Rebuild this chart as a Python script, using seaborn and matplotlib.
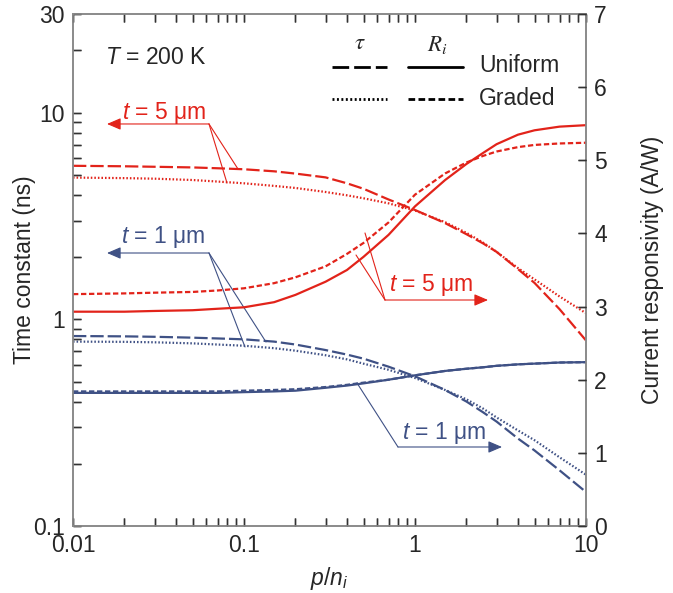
import numpy as np
import pandas as pd
import matplotlib
matplotlib.use("Agg")
import matplotlib.pyplot as plt
from matplotlib.ticker import FixedLocator, FixedFormatter, NullFormatter, LogLocator
from matplotlib.transforms import blended_transform_factory
from matplotlib.collections import LineCollection
import seaborn as sns

# ---------------- data ----------------
p_ni = [0.01, 0.02, 0.03, 0.05, 0.07, 0.1, 0.15, 0.2, 0.3, 0.4, 0.5, 0.7,
        1, 1.5, 2, 2.5, 3, 4, 5, 7, 10]

# time constant (ns), left axis
tau_uniform_5um = [5.53, 5.50, 5.47, 5.43, 5.38, 5.32, 5.20, 5.07, 4.86, 4.55, 4.28, 3.80,
                   3.38, 2.92, 2.58, 2.33, 2.12, 1.75, 1.50, 1.12, 0.79]
tau_graded_5um = [4.85, 4.82, 4.79, 4.72, 4.64, 4.55, 4.42, 4.32, 4.13, 3.98, 3.85, 3.64,
                  3.36, 2.95, 2.62, 2.35, 2.12, 1.77, 1.56, 1.29, 1.07]
tau_uniform_1um = [0.83, 0.827, 0.823, 0.815, 0.808, 0.80, 0.78, 0.755, 0.71, 0.675, 0.645, 0.59,
                   0.53, 0.455, 0.40, 0.355, 0.32, 0.265, 0.232, 0.186, 0.146]
tau_graded_1um = [0.78, 0.778, 0.774, 0.765, 0.755, 0.745, 0.725, 0.705, 0.67, 0.64, 0.61, 0.57,
                  0.52, 0.455, 0.41, 0.37, 0.335, 0.29, 0.26, 0.215, 0.177]

# current responsivity (A/W), right axis
R_uniform_5um = [2.93, 2.93, 2.94, 2.95, 2.97, 2.99, 3.06, 3.16, 3.34, 3.50, 3.68, 3.98,
                 4.37, 4.73, 4.95, 5.10, 5.22, 5.35, 5.41, 5.46, 5.48]
R_graded_5um = [3.17, 3.18, 3.19, 3.20, 3.22, 3.25, 3.32, 3.40, 3.55, 3.72, 3.87, 4.15,
                4.53, 4.82, 4.97, 5.06, 5.12, 5.18, 5.21, 5.23, 5.24]
R_uniform_1um = [1.82, 1.82, 1.82, 1.82, 1.82, 1.83, 1.84, 1.85, 1.89, 1.92, 1.95, 2.00,
                 2.06, 2.12, 2.15, 2.17, 2.19, 2.21, 2.22, 2.235, 2.24]
R_graded_1um = [1.84, 1.84, 1.84, 1.84, 1.84, 1.85, 1.86, 1.87, 1.90, 1.93, 1.96, 2.00,
                2.06, 2.12, 2.15, 2.17, 2.19, 2.21, 2.22, 2.235, 2.24]

left_ticks = [0.1, 1, 10, 30]
left_ticklabels = ["0.1", "1", "10", "30"]
x_ticks = [0.01, 0.1, 1, 10]
x_ticklabels = ["0.01", "0.1", "1", "10"]
right_ticks = [0, 1, 2, 3, 4, 5, 6, 7]

# ---------------- style ----------------
sns.set_theme(style="ticks")
plt.rcParams["font.family"] = ["Liberation Sans", "DejaVu Sans"]
plt.rcParams["mathtext.fontset"] = "custom"
plt.rcParams["mathtext.rm"] = "Liberation Sans"
plt.rcParams["mathtext.it"] = "Liberation Sans:italic"
TICK_C = "#333333"
plt.rcParams.update({
    "axes.axisbelow": False,
    "xtick.direction": "in", "ytick.direction": "in",
    "xtick.bottom": True, "xtick.top": True,
    "ytick.left": True, "ytick.right": False,
    "xtick.major.size": 6, "xtick.minor.size": 6,
    "ytick.major.size": 6, "ytick.minor.size": 6,
})

FS = 16.5
RED = "#E2231A"
BLUE = "#3F5185"
SPINE = "#8a8a8a"
LW = 1.6
LONG_DASH = (0, (6, 1.8))
SHORT_DASH = (0, (2.4, 1.2))
DOTTED = (0, (0.7, 0.9))

W, H = 673, 593
AX_W, AX_H = 513, 512
fig = plt.figure(figsize=(W / 100, H / 100), dpi=100)
ax = fig.add_axes([73 / W, 1 - 526 / H, AX_W / W, AX_H / H])
ax.set_xscale("log")
ax.set_yscale("log")
ax.set_xlim(0.01, 10)
ax.set_ylim(0.1, 30)
ax2 = ax.twinx()
ax2.set_ylim(0, 7)

# ---------------- curves ----------------
sns.lineplot(x=p_ni, y=tau_uniform_5um, ax=ax, color=RED, lw=LW, linestyle=LONG_DASH)
sns.lineplot(x=p_ni, y=tau_graded_5um, ax=ax, color=RED, lw=LW, linestyle=DOTTED)
sns.lineplot(x=p_ni, y=tau_uniform_1um, ax=ax, color=BLUE, lw=LW, linestyle=LONG_DASH)
sns.lineplot(x=p_ni, y=tau_graded_1um, ax=ax, color=BLUE, lw=LW, linestyle=DOTTED)

sns.lineplot(x=p_ni, y=R_uniform_5um, ax=ax2, color=RED, lw=LW, linestyle="-")
sns.lineplot(x=p_ni, y=R_graded_5um, ax=ax2, color=RED, lw=LW, linestyle=SHORT_DASH)
sns.lineplot(x=p_ni, y=R_uniform_1um, ax=ax2, color=BLUE, lw=LW, linestyle="-")
sns.lineplot(x=p_ni, y=R_graded_1um, ax=ax2, color=BLUE, lw=LW, linestyle=SHORT_DASH)

# ---------------- axes / ticks ----------------
ax.xaxis.set_major_locator(FixedLocator(x_ticks))
ax.xaxis.set_major_formatter(FixedFormatter(x_ticklabels))
ax.xaxis.set_minor_locator(LogLocator(base=10, subs=np.arange(2, 10)))
ax.xaxis.set_minor_formatter(NullFormatter())
ax.yaxis.set_major_locator(FixedLocator(left_ticks))
ax.yaxis.set_major_formatter(FixedFormatter(left_ticklabels))
ax.yaxis.set_minor_locator(LogLocator(base=10, subs=np.arange(2, 10)))
ax.yaxis.set_minor_formatter(NullFormatter())
ax2.yaxis.set_major_locator(FixedLocator(right_ticks))

for a in (ax, ax2):
    for s in a.spines.values():
        s.set_color(SPINE)
        s.set_linewidth(1.2)
        s.set_visible(True)
    a.grid(False)

ax.set_xlabel(r"$p/n_i$", fontsize=FS)
ax.set_ylabel("Time constant (ns)", fontsize=FS)
ax2.set_ylabel("Current responsivity (A/W)", fontsize=FS)
ax.xaxis.set_label_coords(0.5, -0.077)
ax.yaxis.set_label_coords(-0.073, 0.5)
ax2.yaxis.set_label_coords(1.107, 0.5)

# ---------------- text / legend ----------------
tr = ax.transAxes
ax.text(0.062, 0.916, r"$T$ = 200 K", transform=tr, fontsize=FS, ha="left", va="center")

ax.text(0.5595, 0.9434, r"$\tau$", transform=tr, fontsize=FS, ha="center", va="center",
        math_fontfamily="stix")
ax.text(0.7096, 0.9395, r"$R_i$", transform=tr, fontsize=FS, ha="center", va="center",
        math_fontfamily="stix")
row_u, row_g = 0.8965, 0.834
ax.plot([0.5049, 0.6121], [row_u, row_u], transform=tr, color="black", lw=2, linestyle=LONG_DASH)
ax.plot([0.6530, 0.7602], [row_u, row_u], transform=tr, color="black", lw=2, linestyle="-")
ax.plot([0.5049, 0.6121], [row_g, row_g], transform=tr, color="black", lw=2, linestyle=DOTTED)
ax.plot([0.6530, 0.7602], [row_g, row_g], transform=tr, color="black", lw=2, linestyle=SHORT_DASH)
ax.text(0.7914, row_u + 0.002, "Uniform", transform=tr, fontsize=FS, ha="left", va="center")
ax.text(0.7914, row_g, "Graded", transform=tr, fontsize=FS, ha="left", va="center")


def callout(text, text_xy, corner, arrow_end, targets, color):
    for t in targets:
        ax.plot([corner[0], t[0]], [corner[1], t[1]], transform=tr, color=color, lw=0.8)
    ax.annotate("", xy=arrow_end, xytext=corner, xycoords=tr, textcoords=tr,
                arrowprops=dict(arrowstyle="-|>,head_length=0.7,head_width=0.3",
                                color=color, lw=0.8, shrinkA=0, shrinkB=0))
    ax.text(text_xy[0], text_xy[1], text, transform=tr, fontsize=FS, color=color,
            ha="center", va="center")


callout(r"$t$ = 5 μm", (0.1774, 0.8066), (0.2651, 0.7852), (0.0663, 0.7852),
        [(0.3216, 0.6973), (0.3002, 0.6699)], RED)
callout(r"$t$ = 5 μm", (0.6979, 0.4707), (0.6082, 0.4414), (0.8090, 0.4414),
        [(0.5517, 0.5293), (0.5692, 0.5723)], RED)
callout(r"$t$ = 1 μm", (0.1754, 0.5645), (0.2651, 0.5332), (0.0663, 0.5332),
        [(0.3353, 0.3496), (0.3762, 0.3594)], BLUE)
callout(r"$t$ = 1 μm", (0.7232, 0.1816), (0.6335, 0.1543), (0.8363, 0.1543),
        [(0.5536, 0.2793)], BLUE)

ax.set_xlim(0.01, 10)
ax.set_ylim(0.1, 30)
ax2.set_ylim(0, 7)

ax.tick_params(axis="x", which="both", direction="in", top=True, bottom=True,
               length=6, width=1, color=TICK_C, labelsize=FS, pad=6)
ax.tick_params(axis="y", which="both", direction="in", left=True, right=False,
               length=6, width=1, color=TICK_C, labelsize=FS, pad=6)
ax2.tick_params(axis="y", which="major", direction="in", right=True, left=False,
                length=6, width=1, color=TICK_C, labelsize=FS, pad=6)
ax2.tick_params(axis="y", which="minor", right=False, left=False)

# ---------------- inward tick marks drawn as line segments ----------------
TICK_PX = 8.3
lx = TICK_PX / AX_W   # horizontal tick length in axes fraction
ly = TICK_PX / AX_H   # vertical tick length in axes fraction

x_all = sorted(set(x_ticks) | {m * 10.0 ** e for e in (-2, -1, 0) for m in range(2, 10)})
y_all = sorted(set(left_ticks) | {m * 10.0 ** e for e in (-1, 0, 1) for m in range(2, 10)
                                   if m * 10.0 ** e <= 30})

bx = blended_transform_factory(ax.transData, ax.transAxes)
segs_x = [[(v, 0), (v, ly)] for v in x_all] + [[(v, 1 - ly), (v, 1)] for v in x_all]
ax.add_collection(LineCollection(segs_x, transform=bx, colors=TICK_C, linewidths=1,
                                 clip_on=False, zorder=6))

by = blended_transform_factory(ax.transAxes, ax.transData)
segs_y = [[(0, v), (lx, v)] for v in y_all]
ax.add_collection(LineCollection(segs_y, transform=by, colors=TICK_C, linewidths=1,
                                 clip_on=False, zorder=6))

br = blended_transform_factory(ax2.transAxes, ax2.transData)
segs_r = [[(1 - lx, v), (1, v)] for v in right_ticks]
ax2.add_collection(LineCollection(segs_r, transform=br, colors=TICK_C, linewidths=1,
                                  clip_on=False, zorder=6))

ax.set_xlim(0.01, 10)
ax.set_ylim(0.1, 30)
ax2.set_ylim(0, 7)

fig.savefig("out.png", dpi=100)
